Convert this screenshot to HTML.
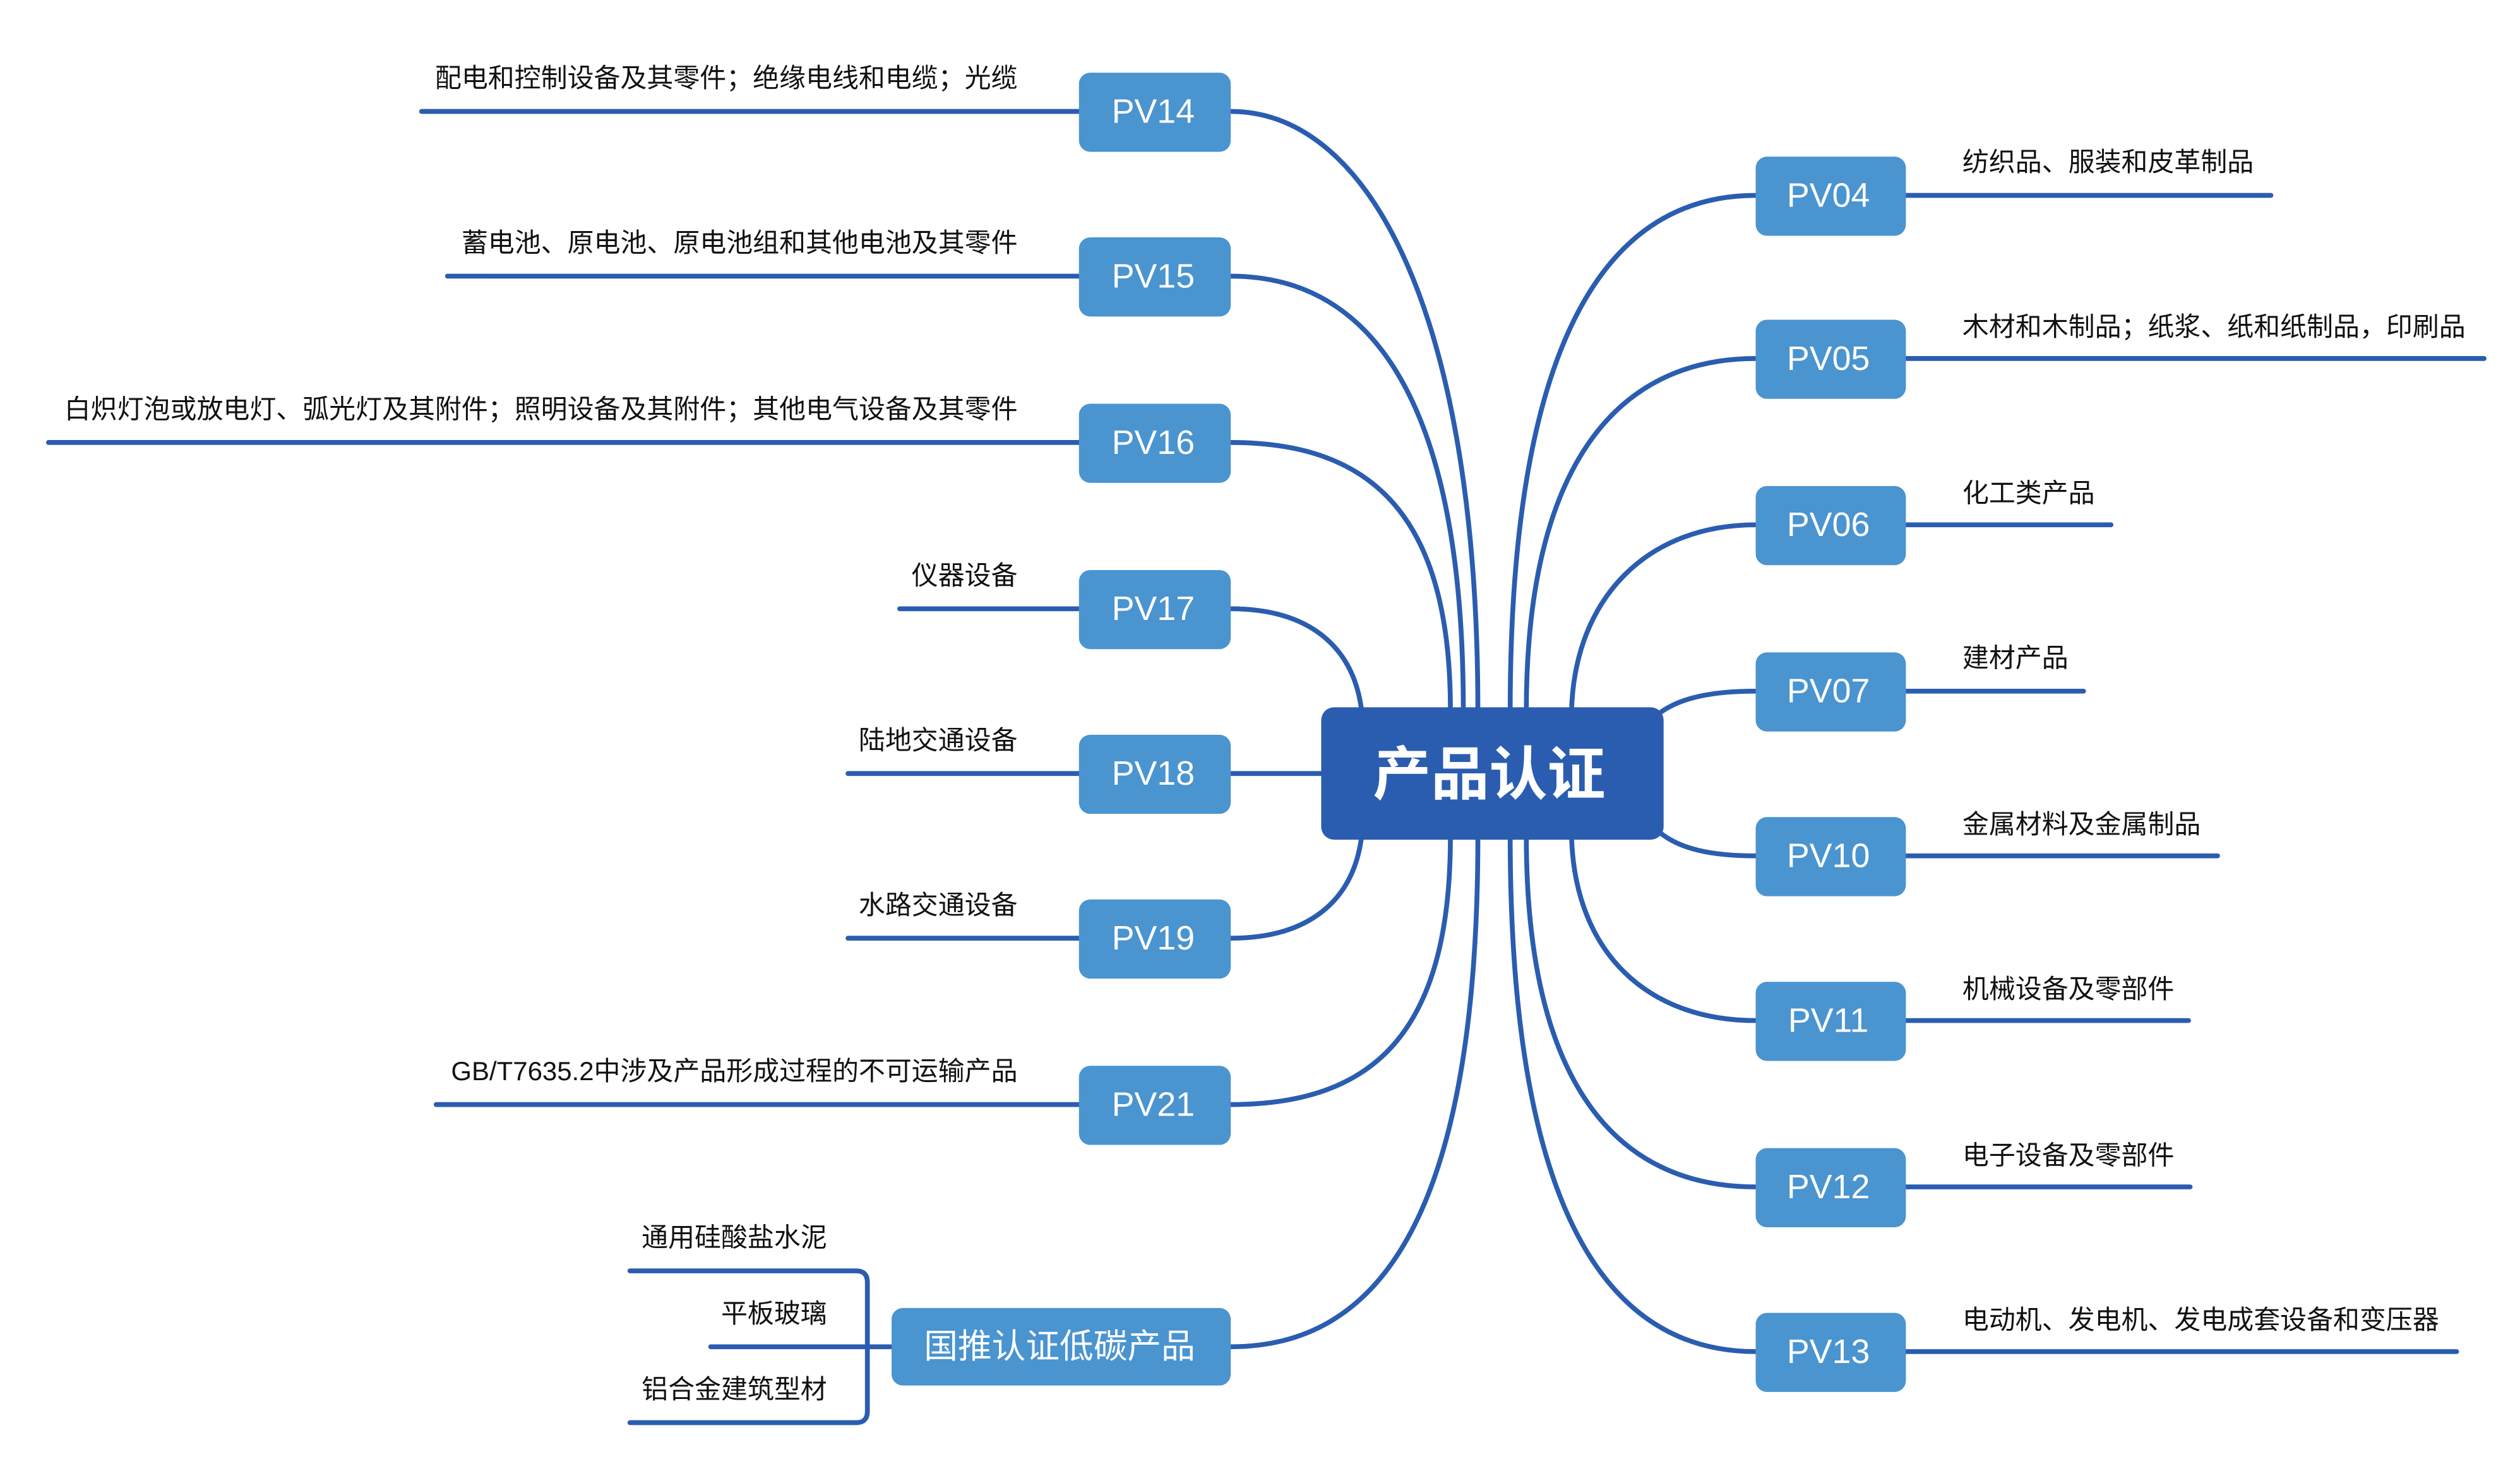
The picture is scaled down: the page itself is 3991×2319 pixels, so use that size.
<!DOCTYPE html>
<html><head><meta charset="utf-8"><style>
html,body{margin:0;padding:0;background:#fff;}
svg{display:block;}
text{font-family:"Liberation Sans","Noto Sans CJK SC",sans-serif;}
</style></head><body>
<svg width="3991" height="2319" viewBox="0 0 1560.2 906.6" xmlns="http://www.w3.org/2000/svg">
<g fill="none" stroke="#2a5db0" stroke-width="3" stroke-linecap="round">
<path d="M915,440 C915,200 850,69 762,69"/>
<path d="M906,440 C906,250 850,171 762,171"/>
<path d="M898,440 C898,320 850,274 762,274"/>
<path d="M843,440 C838,400 810,377 762,377"/>
<path d="M762,479 L820,479"/>
<path d="M843,518 C838,558 810,581 762,581"/>
<path d="M898,518 C898,640 850,684 762,684"/>
<path d="M915,518 C915,760 850,834 762,834"/>
<path d="M935,440 C935,220 990,121 1087,121"/>
<path d="M945,440 C945,290 1000,222 1087,222"/>
<path d="M973,440 C975,370 1020,325 1087,325"/>
<path d="M1027,442 C1040,432 1060,428 1087,428"/>
<path d="M1027,515 C1040,526 1060,530 1087,530"/>
<path d="M973,518 C975,590 1020,632 1087,632"/>
<path d="M945,518 C945,670 1000,735 1087,735"/>
<path d="M935,518 C935,740 990,837 1087,837"/>
<path d="M261,69 H668"/>
<path d="M277,171 H668"/>
<path d="M30,274 H668"/>
<path d="M557,377 H668"/>
<path d="M525,479 H668"/>
<path d="M525,581 H668"/>
<path d="M270,684 H668"/>
<path d="M1180,121 H1406"/>
<path d="M1180,222 H1538"/>
<path d="M1180,325 H1307"/>
<path d="M1180,428 H1290"/>
<path d="M1180,530 H1373"/>
<path d="M1180,632 H1355"/>
<path d="M1180,735 H1356"/>
<path d="M1180,837 H1521"/>
<path d="M390,787 H530 Q537,787 537,794 V874 Q537,881 530,881 H390"/>
<path d="M440,834 H552"/>
</g>
<rect x="818" y="438" width="212" height="82" rx="8" fill="#2a5db0"/>
<text x="922" y="492" font-size="36" font-weight="bold" fill="#fff" text-anchor="middle">产品认证</text>
<g fill="#4a94d0">
<rect x="668" y="45" width="94" height="49" rx="7"/>
<rect x="668" y="147" width="94" height="49" rx="7"/>
<rect x="668" y="250" width="94" height="49" rx="7"/>
<rect x="668" y="353" width="94" height="49" rx="7"/>
<rect x="668" y="455" width="94" height="49" rx="7"/>
<rect x="668" y="557" width="94" height="49" rx="7"/>
<rect x="668" y="660" width="94" height="49" rx="7"/>
<rect x="552" y="810" width="210" height="48" rx="7"/>
<rect x="1087" y="97" width="93" height="49" rx="7"/>
<rect x="1087" y="198" width="93" height="49" rx="7"/>
<rect x="1087" y="301" width="93" height="49" rx="7"/>
<rect x="1087" y="404" width="93" height="49" rx="7"/>
<rect x="1087" y="506" width="93" height="49" rx="7"/>
<rect x="1087" y="608" width="93" height="49" rx="7"/>
<rect x="1087" y="711" width="93" height="49" rx="7"/>
<rect x="1087" y="813" width="93" height="49" rx="7"/>
</g>
<g fill="#fff" font-size="21" text-anchor="middle">
<text x="714" y="76">PV14</text>
<text x="714" y="178">PV15</text>
<text x="714" y="281">PV16</text>
<text x="714" y="384">PV17</text>
<text x="714" y="486">PV18</text>
<text x="714" y="588">PV19</text>
<text x="714" y="691">PV21</text>
<text x="656" y="841">国推认证低碳产品</text>
<text x="1132" y="128">PV04</text>
<text x="1132" y="229">PV05</text>
<text x="1132" y="332">PV06</text>
<text x="1132" y="435">PV07</text>
<text x="1132" y="537">PV10</text>
<text x="1132" y="639">PV11</text>
<text x="1132" y="742">PV12</text>
<text x="1132" y="844">PV13</text>
</g>
<g fill="#111" font-size="16.4" text-anchor="end">
<text x="630" y="54">配电和控制设备及其零件；绝缘电线和电缆；光缆</text>
<text x="630" y="156">蓄电池、原电池、原电池组和其他电池及其零件</text>
<text x="630" y="259">白炽灯泡或放电灯、弧光灯及其附件；照明设备及其附件；其他电气设备及其零件</text>
<text x="630" y="362">仪器设备</text>
<text x="630" y="464">陆地交通设备</text>
<text x="630" y="566">水路交通设备</text>
<text x="630" y="669">GB/T7635.2中涉及产品形成过程的不可运输产品</text>
<text x="512" y="772">通用硅酸盐水泥</text>
<text x="512" y="819">平板玻璃</text>
<text x="512" y="866">铝合金建筑型材</text>
</g>
<g fill="#111" font-size="16.4">
<text x="1215" y="106">纺织品、服装和皮革制品</text>
<text x="1215" y="208">木材和木制品；纸浆、纸和纸制品，印刷品</text>
<text x="1215" y="311">化工类产品</text>
<text x="1215" y="413">建材产品</text>
<text x="1215" y="516">金属材料及金属制品</text>
<text x="1215" y="618">机械设备及零部件</text>
<text x="1215" y="721">电子设备及零部件</text>
<text x="1215" y="823">电动机、发电机、发电成套设备和变压器</text>
</g>
</svg>
</body></html>
